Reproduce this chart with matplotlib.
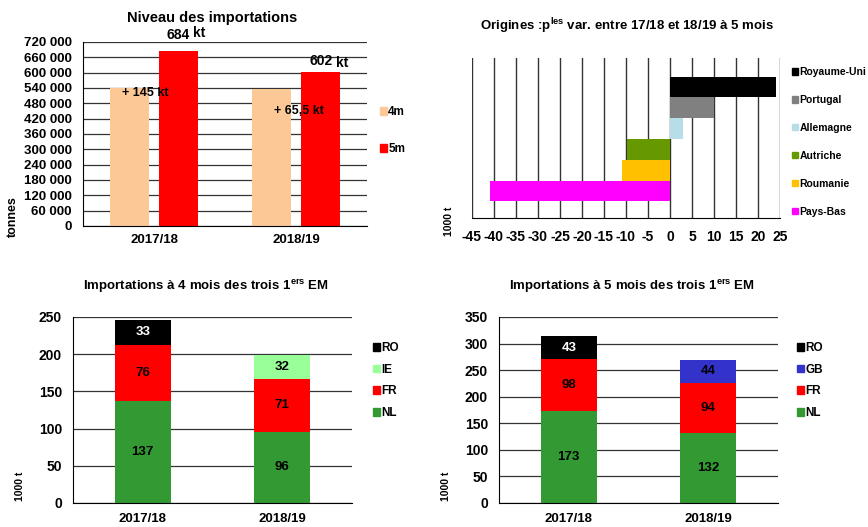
import numpy as np
import matplotlib
matplotlib.use("Agg")
import matplotlib.pyplot as plt
from matplotlib.patches import Patch
from matplotlib.ticker import FuncFormatter

# ---------------- data ----------------
years = ["2017/18", "2018/19"]
imp_4m = [539000, 536500]
imp_5m = [684000, 602000]
lab_5m = ["684", "602"]
lab_diff = ["+ 145 kt", "+ 65,5 kt"]

origins = ["Pays-Bas", "Roumanie", "Autriche", "Allemagne", "Portugal", "Royaume-Uni"]
variation = [-40.9, -10.9, -9.8, 2.9, 10.1, 24.2]
origin_colors = ["#FF00FF", "#FFC000", "#669900", "#B7DEE8", "#808080", "#000000"]
var_ticks = list(range(-45, 26, 5))

nl_4m = [137, 96]
fr_4m = [76, 71]
ro_4m = [33, 0]
ie_4m = [0, 32]

nl_5m = [173, 132]
fr_5m = [98, 94]
ro_5m = [43, 0]
gb_5m = [0, 44]

# ---------------- style ----------------
W, H = 868, 527
plt.rcParams["font.family"] = ["Liberation Sans", "DejaVu Sans"]
plt.rcParams["font.weight"] = "bold"
plt.rcParams["axes.unicode_minus"] = False
plt.rcParams["mathtext.fontset"] = "custom"
plt.rcParams["mathtext.bf"] = "Liberation Sans:bold"
plt.rcParams["mathtext.rm"] = "Liberation Sans:bold"
plt.rcParams["mathtext.it"] = "Liberation Sans:bold"

C4M, C5M = "#FCC896", "#FF0000"
CNL, CFR, CRO, CIE, CGB = "#339933", "#FF0000", "#000000", "#99FF99", "#3333CC"
GRID = "#333333"

fig = plt.figure(figsize=(W / 100, H / 100), dpi=100)


def px_axes(l, t, r, b):
    return fig.add_axes([l / W, 1 - b / H, (r - l) / W, (b - t) / H])


def ftext(x, y, s, **kw):
    fig.text(x / W, 1 - y / H, s, **kw)


def base_style(ax):
    for s in ["top", "right"]:
        ax.spines[s].set_visible(False)
    ax.spines["left"].set_color("black")
    ax.spines["bottom"].set_color("black")
    ax.tick_params(length=0)
    ax.set_axisbelow(True)


def px_legend(ax, handles, labels, x, ytop, fs, spacing):
    ax.legend(handles, labels, loc="upper left",
              bbox_to_anchor=(x / W, 1 - ytop / H), bbox_transform=fig.transFigure,
              frameon=False, handlelength=0.6, handleheight=0.6, handletextpad=0.1,
              labelspacing=spacing, borderpad=0, borderaxespad=0,
              prop={"size": fs, "weight": "bold"})


# ---------------- top-left ----------------
ax1 = px_axes(83, 42, 367, 226)
base_style(ax1)
x = np.arange(len(years))
off, bw = 0.173, 0.27
ax1.bar(x - off, imp_4m, bw, color=C4M, label="4m")
ax1.bar(x + off, imp_5m, bw, color=C5M, label="5m")
ax1.set_xlim(-0.5, 1.5)
ax1.set_ylim(0, 720000)
ax1.set_yticks(range(0, 720001, 60000))
ax1.yaxis.set_major_formatter(FuncFormatter(lambda v, p: f"{v:,.0f}".replace(",", " ")))
ax1.yaxis.grid(True, color=GRID, lw=0.9)
ax1.set_xticks(x)
ax1.set_xticklabels(years)
ax1.tick_params(axis="y", labelsize=9.5, pad=8)
ax1.tick_params(axis="x", labelsize=9.5, pad=6)

val_offsets = [(0, 16, 14, 18), (0, 11, 15, 9)]
diff_offsets = [(16, -5), (28, -22)]
for i in range(len(years)):
    dx, dy, kx, ky = val_offsets[i]
    ax1.annotate(lab_5m[i], xy=(x[i] + off, imp_5m[i]), xytext=(dx, dy),
                 textcoords="offset pixels", ha="center", va="center", fontsize=10)
    ax1.annotate("kt", xy=(x[i] + off, imp_5m[i]), xytext=(kx, ky),
                 textcoords="offset pixels", ha="left", va="center", fontsize=10)
    ddx, ddy = diff_offsets[i]
    ax1.annotate(lab_diff[i], xy=(x[i] - off, imp_4m[i]), xytext=(ddx, ddy),
                 textcoords="offset pixels", ha="center", va="center", fontsize=9)
px_legend(ax1, [Patch(color=C4M), Patch(color=C5M)], ["4m", "5m"], 380, 106, 8.5, 2.12)
ftext(212, 18, "Niveau des importations", ha="center", va="center", fontsize=10.5)
ftext(13, 217, "tonnes", rotation=90, ha="center", va="center", fontsize=9)

# ---------------- top-right ----------------
ax2 = px_axes(472, 58, 780, 218)
base_style(ax2)
ax2.spines["left"].set_visible(False)
yy = np.arange(len(origins))
ax2.barh(yy, variation, height=1.0, color=origin_colors)
ax2.set_xlim(-45, 25)
ax2.set_ylim(-1.3, 6.4)
ax2.set_xticks(var_ticks)
ax2.set_yticks([])
ax2.xaxis.grid(True, color=GRID, lw=1)
ax2.tick_params(axis="x", labelsize=10, pad=9)
px_legend(ax2, [Patch(color=c) for c in origin_colors[::-1]], origins[::-1],
          792, 67, 7.5, 1.72)
ftext(627, 26, r"Origines :p$^{\mathbf{les}}$ var. entre 17/18 et 18/19 à 5 mois",
      ha="center", va="center", fontsize=9.5)
ftext(449, 221, "1000 t", rotation=90, ha="center", va="center", fontsize=7.5)


# ---------------- bottom charts ----------------
def stacked(ax, series, colors, txtcolors, ymax, title, tx):
    base_style(ax)
    bottom = np.zeros(len(years))
    for vals, c, tc in zip(series, colors, txtcolors):
        v = np.array(vals, dtype=float)
        ax.bar(x, v, 0.4, bottom=bottom, color=c)
        for i in range(len(years)):
            if v[i] > 0:
                ax.text(x[i], bottom[i] + v[i] / 2, f"{v[i]:.0f}", ha="center",
                        va="center", color=tc, fontsize=9.5)
        bottom += v
    ax.set_xlim(-0.5, 1.5)
    ax.set_ylim(0, ymax)
    ax.set_yticks(range(0, ymax + 1, 50))
    ax.yaxis.grid(True, color=GRID, lw=0.9)
    ax.set_xticks(x)
    ax.set_xticklabels(years)
    ax.tick_params(axis="y", labelsize=10, pad=8)
    ax.tick_params(axis="x", labelsize=9.5, pad=7)
    ftext(tx, 286, title, ha="center", va="center", fontsize=9.5)


ax3 = px_axes(73, 317, 352, 503)
stacked(ax3, [nl_4m, fr_4m, ro_4m, ie_4m], [CNL, CFR, CRO, CIE],
        ["black", "black", "white", "black"], 250,
        r"Importations à 4 mois des trois 1$^{\mathbf{ers}}$ EM", 206)
px_legend(ax3, [Patch(color=c) for c in [CRO, CIE, CFR, CNL]], ["RO", "IE", "FR", "NL"],
          373, 342, 8.5, 0.82)
ftext(20, 486, "1000 t", rotation=90, ha="center", va="center", fontsize=7.5)

ax4 = px_axes(499, 317, 778, 503)
stacked(ax4, [nl_5m, fr_5m, ro_5m, gb_5m], [CNL, CFR, CRO, CGB],
        ["black", "black", "white", "black"], 350,
        r"Importations à 5 mois des trois 1$^{\mathbf{ers}}$ EM", 632)
px_legend(ax4, [Patch(color=c) for c in [CRO, CGB, CFR, CNL]], ["RO", "GB", "FR", "NL"],
          797, 342, 8.5, 0.82)
ftext(446, 486, "1000 t", rotation=90, ha="center", va="center", fontsize=7.5)

fig.savefig("out.png", dpi=100)
